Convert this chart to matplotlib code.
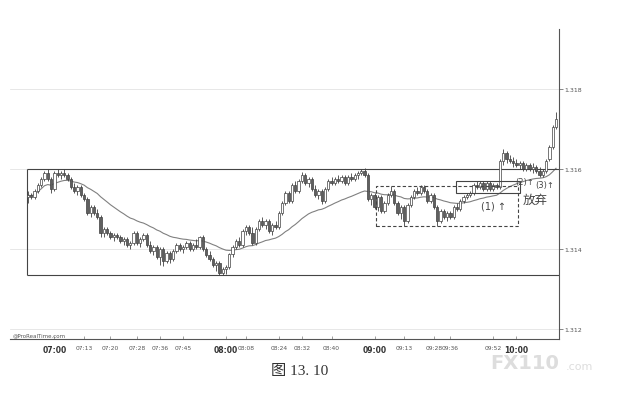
import matplotlib
matplotlib.use("Agg")
import matplotlib.pyplot as plt
from matplotlib.patches import Rectangle
import numpy as np
import pandas as pd

# OHLC of the tick bars
opens = [
    1.3153, 1.31535, 1.3153, 1.31545, 1.3156, 1.31575, 1.3159, 1.31575, 1.3155, 1.3159,
    1.31585, 1.3159, 1.31585, 1.31575, 1.31555, 1.31545, 1.31555, 1.31535, 1.31525, 1.3149,
    1.31505, 1.3149, 1.3148, 1.3144, 1.3145, 1.3144, 1.3143, 1.31435, 1.3143, 1.3142,
    1.31425, 1.3141, 1.31415, 1.3144, 1.31415, 1.31425, 1.31435, 1.3141, 1.31395, 1.31405,
    1.3138, 1.314, 1.3137, 1.3139, 1.31375, 1.31395, 1.3141, 1.314, 1.31405, 1.31415,
    1.314, 1.3141, 1.31405, 1.3143, 1.314, 1.31385, 1.31375, 1.3136, 1.31365, 1.3134,
    1.3135, 1.31355, 1.313875, 1.31405, 1.3142, 1.3141, 1.31445, 1.31455, 1.3144, 1.31415,
    1.3145, 1.3147, 1.3146, 1.3147, 1.31445, 1.3146, 1.31455, 1.3149, 1.31515, 1.3154,
    1.3152, 1.3156, 1.31545, 1.3157, 1.31585, 1.31565, 1.31575, 1.3155, 1.31535, 1.31545,
    1.3152, 1.3155, 1.3157, 1.31565, 1.31575, 1.3157, 1.3158, 1.31565, 1.3158, 1.31575,
    1.31585, 1.3159, 1.31595, 1.31585, 1.31525, 1.31535, 1.31505, 1.3153, 1.31495, 1.31515,
    1.31535, 1.31545, 1.31515, 1.3149, 1.31505, 1.3147, 1.3151, 1.3153, 1.31545, 1.3154,
    1.31555, 1.31545, 1.3152, 1.31535, 1.31505, 1.3147, 1.31495, 1.3148, 1.3149, 1.3148,
    1.31505, 1.315, 1.3152, 1.3153, 1.31535, 1.3154, 1.3156, 1.31555, 1.31565, 1.3155,
    1.31565, 1.3155, 1.3156, 1.31555, 1.3162, 1.3164, 1.31625, 1.3162, 1.31615, 1.3161,
    1.31615, 1.316, 1.3161, 1.316, 1.31605, 1.31595, 1.31585, 1.31595, 1.31625, 1.31655,
    1.31705,
]
highs = [
    1.31545, 1.3154, 1.3155, 1.31565, 1.3158, 1.31595, 1.316, 1.3158, 1.31595, 1.316,
    1.31595, 1.316, 1.3159, 1.3158, 1.31565, 1.3156, 1.3156, 1.3154, 1.3153, 1.3151,
    1.3151, 1.315, 1.31485, 1.31455, 1.31455, 1.31445, 1.3144, 1.3144, 1.31435, 1.3143,
    1.3143, 1.3142, 1.31445, 1.31445, 1.3143, 1.3144, 1.3144, 1.3142, 1.3141, 1.3141,
    1.31405, 1.31405, 1.31395, 1.31395, 1.314, 1.31415, 1.31415, 1.3141, 1.3142, 1.3142,
    1.31415, 1.31425, 1.314325, 1.31435, 1.31405, 1.31395, 1.3138, 1.3137, 1.3137, 1.31355,
    1.3136, 1.3139, 1.3141, 1.31425, 1.3143, 1.3145, 1.3146, 1.3146, 1.31455, 1.31455,
    1.31475, 1.3148, 1.31475, 1.31475, 1.31465, 1.3147, 1.31495, 1.3152, 1.31545, 1.31545,
    1.31565, 1.3157, 1.31575, 1.315925, 1.3159, 1.3158, 1.3158, 1.3156, 1.3155, 1.3155,
    1.31555, 1.31575, 1.3158, 1.3158, 1.31585, 1.31585, 1.31585, 1.31585, 1.3159, 1.3159,
    1.31595, 1.316, 1.316025, 1.3159, 1.3154, 1.3154, 1.31535, 1.31535, 1.3152, 1.3154,
    1.315575, 1.3155, 1.3152, 1.3151, 1.3151, 1.31515, 1.31535, 1.3155, 1.31555, 1.3156,
    1.3156, 1.3155, 1.3154, 1.3154, 1.3151, 1.315, 1.315, 1.31495, 1.31495, 1.3151,
    1.31515, 1.31525, 1.31535, 1.3154, 1.31545, 1.31565, 1.3157, 1.3157, 1.3157, 1.3157,
    1.3157, 1.31565, 1.31565, 1.31625, 1.3165, 1.31645, 1.31635, 1.3163, 1.31625, 1.3162,
    1.3162, 1.31615, 1.31615, 1.31615, 1.3161, 1.31605, 1.316, 1.31625, 1.3166, 1.3171,
    1.317425,
]
lows = [
    1.31515, 1.31525, 1.31525, 1.3154, 1.31555, 1.3157, 1.3157, 1.3154, 1.31545, 1.3158,
    1.31575, 1.3158, 1.3157, 1.3155, 1.3154, 1.31535, 1.3153, 1.3152, 1.31485, 1.3148,
    1.31485, 1.31475, 1.3143, 1.3143, 1.31435, 1.31425, 1.3142, 1.31425, 1.31415, 1.3141,
    1.31405, 1.314, 1.3141, 1.3141, 1.31405, 1.3142, 1.31405, 1.3139, 1.31385, 1.31375,
    1.3136, 1.313575, 1.31365, 1.31365, 1.3137, 1.3139, 1.31395, 1.3139, 1.314, 1.31395,
    1.31395, 1.314, 1.314, 1.31395, 1.3138, 1.3137, 1.31355, 1.31345, 1.31335, 1.31335,
    1.313375, 1.3135, 1.3138, 1.314, 1.31405, 1.31405, 1.31435, 1.31435, 1.3141, 1.3141,
    1.31445, 1.31455, 1.3145, 1.3144, 1.31435, 1.3145, 1.3145, 1.31485, 1.3151, 1.31515,
    1.31515, 1.3154, 1.3154, 1.31565, 1.3156, 1.31555, 1.31545, 1.3153, 1.31525, 1.315125,
    1.31515, 1.31545, 1.3156, 1.3156, 1.31565, 1.31565, 1.3156, 1.3156, 1.3157, 1.3157,
    1.31575, 1.31585, 1.3158, 1.3152, 1.3151, 1.315, 1.31495, 1.3149, 1.3149, 1.3151,
    1.3153, 1.3151, 1.31485, 1.31475, 1.314575, 1.31465, 1.31505, 1.31525, 1.31535, 1.31535,
    1.3154, 1.31515, 1.31515, 1.315, 1.314575, 1.31465, 1.31475, 1.3147, 1.31475, 1.31475,
    1.31495, 1.31495, 1.31515, 1.31525, 1.3153, 1.31535, 1.3155, 1.3155, 1.31545, 1.31545,
    1.31545, 1.31545, 1.3155, 1.3155, 1.3161, 1.31615, 1.31615, 1.31605, 1.31605, 1.316,
    1.31595, 1.31595, 1.31595, 1.3159, 1.3159, 1.3158, 1.3158, 1.3159, 1.3162, 1.3165,
    1.317,
]
closes = [
    1.31535, 1.3153, 1.31545, 1.3156, 1.31575, 1.3159, 1.31575, 1.3155, 1.3159, 1.31585,
    1.3159, 1.31585, 1.31575, 1.31555, 1.31545, 1.31555, 1.31535, 1.31525, 1.3149, 1.31505,
    1.3149, 1.3148, 1.3144, 1.3145, 1.3144, 1.3143, 1.31435, 1.3143, 1.3142, 1.31425,
    1.3141, 1.31415, 1.3144, 1.31415, 1.31425, 1.31435, 1.3141, 1.31395, 1.31405, 1.3138,
    1.314, 1.3137, 1.3139, 1.31375, 1.31395, 1.3141, 1.314, 1.31405, 1.31415, 1.314,
    1.3141, 1.31405, 1.3143, 1.314, 1.31385, 1.31375, 1.3136, 1.31365, 1.3134, 1.3135,
    1.31355, 1.313875, 1.31405, 1.3142, 1.3141, 1.31445, 1.31455, 1.3144, 1.31415, 1.3145,
    1.3147, 1.3146, 1.3147, 1.31445, 1.3146, 1.31455, 1.3149, 1.31515, 1.3154, 1.3152,
    1.3156, 1.31545, 1.3157, 1.31585, 1.31565, 1.31575, 1.3155, 1.31535, 1.31545, 1.3152,
    1.3155, 1.3157, 1.31565, 1.31575, 1.3157, 1.3158, 1.31565, 1.3158, 1.31575, 1.31585,
    1.3159, 1.31595, 1.31585, 1.31525, 1.31535, 1.31505, 1.3153, 1.31495, 1.31515, 1.31535,
    1.31545, 1.31515, 1.3149, 1.31505, 1.3147, 1.3151, 1.3153, 1.31545, 1.3154, 1.31555,
    1.31545, 1.3152, 1.31535, 1.31505, 1.3147, 1.31495, 1.3148, 1.3149, 1.3148, 1.31505,
    1.315, 1.3152, 1.3153, 1.31535, 1.3154, 1.3156, 1.31555, 1.31565, 1.3155, 1.31565,
    1.3155, 1.3156, 1.31555, 1.3162, 1.3164, 1.31625, 1.3162, 1.31615, 1.3161, 1.31615,
    1.316, 1.3161, 1.316, 1.31605, 1.31595, 1.31585, 1.31595, 1.3162, 1.31655, 1.31705,
    1.31725,
]

time_ticks = [8, 17, 25, 33, 40, 47, 60, 66, 76, 83, 92, 105, 114, 123, 128, 141, 148]
time_labels = ["07:00", "07:13", "07:20", "07:28", "07:36", "07:45", "08:00", "08:08",
               "08:24", "08:32", "08:40", "09:00", "09:13", "09:28", "09:36", "09:52", "10:00"]
price_ticks = [1.312, 1.314, 1.316, 1.318]

# range box and the two consolidation boxes
range_top, range_bottom = 1.3160, 1.31335
dashed_box = (105.5, 148.5, 1.314575, 1.315575)
small_box = (129.7, 149.1, 1.31539, 1.31569)

plt.rcParams['font.family'] = ['DejaVu Sans', 'Noto Sans CJK SC']

fig = plt.figure(figsize=(6.26, 4.06), dpi=100)
ax = fig.add_axes([10 / 626, 66 / 406, 549 / 626, 310 / 406])

o = np.array(opens); h = np.array(highs); l = np.array(lows); c = np.array(closes)
x = np.arange(len(c))
up = c >= o
ink = "#404040"

ax.vlines(x, l, h, color=ink, lw=0.6, zorder=3)
body = np.maximum(np.abs(c - o), 0.00001)
ax.bar(x[up], body[up], bottom=np.minimum(o, c)[up], width=0.7,
       color="white", edgecolor=ink, linewidth=0.5, zorder=4)
ax.bar(x[~up], body[~up], bottom=np.minimum(o, c)[~up], width=0.7,
       color="#606060", edgecolor=ink, linewidth=0.5, zorder=4)

# moving average of closes
ma = pd.Series(c).ewm(span=30).mean()
ax.plot(x, ma, color="#808080", lw=0.8, zorder=2)

ax.set_xlim(-5.45, 160.9)
ax.set_ylim(1.31175, 1.3195)

# range rectangle (solid)
ax.hlines([range_top, range_bottom], -0.3, 160.9, color="#444444", lw=0.8, zorder=2)
ax.vlines(-0.3, range_bottom, range_top, color="#444444", lw=0.8, zorder=2)

x0, x1, y0, y1 = dashed_box
ax.add_patch(Rectangle((x0, y0), x1 - x0, y1 - y0, fill=False, ls=(0, (3, 2)),
                       ec="#444444", lw=0.8, zorder=5))
x0, x1, y0, y1 = small_box
ax.add_patch(Rectangle((x0, y0), x1 - x0, y1 - y0, fill=False,
                       ec="#444444", lw=0.8, zorder=5))

ax.text(141, 1.3151, "(1) ↑", fontsize=7, color="#444444", ha="center", va="center", zorder=6)
ax.text(150.5, 1.31569, "(2)↑", fontsize=6, color="#444444", ha="center", va="center", zorder=6)
ax.text(156.7, 1.31562, "(3)↑", fontsize=6, color="#444444", ha="center", va="center", zorder=6)
ax.text(153.6, 1.31525, "放弃", fontsize=9, color="#444444", ha="center", va="center",
        family=["Noto Sans CJK SC", "DejaVu Sans"], zorder=6)

# light grid at price levels
for p in price_ticks:
    ax.axhline(p, color="#dddddd", lw=0.5, zorder=1)

for s in ["top", "left"]:
    ax.spines[s].set_visible(False)
ax.spines["right"].set_color("#555555")
ax.spines["bottom"].set_color("#555555")
ax.spines["right"].set_linewidth(0.8)
ax.spines["bottom"].set_linewidth(0.8)

ax.yaxis.tick_right()
ax.set_yticks(price_ticks)
ax.set_yticklabels([f"{p:.3f}" for p in price_ticks], fontsize=4.5, color="#555555")
ax.tick_params(axis="y", length=3, width=0.5, color="#555555", pad=1)

ax.set_xticks(time_ticks)
ax.set_xticklabels(time_labels, fontsize=4.3, color="#555555")
for lab in ax.get_xticklabels():
    if lab.get_text().endswith(":00"):
        lab.set_fontweight("bold")
        lab.set_fontsize(5.5)
        lab.set_color("#333333")
ax.tick_params(axis="x", direction="in", length=2, width=0.5, color="#777777", pad=4)

fig.text(13 / 626, 1 - 338 / 406, "@ProRealTime.com", fontsize=4, color="#555555",
         va="bottom", ha="left")
fig.text(300 / 626, 1 - 371 / 406, "图 13. 10", fontsize=11, color="#333333",
         ha="center", va="center", family=["Liberation Serif", "Noto Sans CJK SC"])
fig.text(490 / 626, 1 - 364 / 406, "FX110", fontsize=14, fontweight="bold",
         color="#dddddd", ha="left", va="center")
fig.text(566 / 626, 1 - 367 / 406, ".com", fontsize=8, color="#dddddd",
         ha="left", va="center")

fig.savefig("out.png", dpi=100)
